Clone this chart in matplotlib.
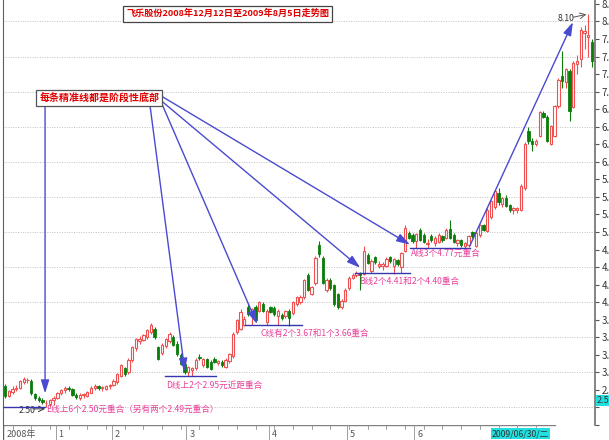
import numpy as np
import matplotlib
matplotlib.use('Agg')
import matplotlib.pyplot as plt
from matplotlib.transforms import blended_transform_factory

plt.rcParams['font.family'] = ['Noto Sans CJK SC', 'DejaVu Sans']

# daily OHLC, 2008-12-12 .. 2009-08-05
opens = [2.80, 2.67, 2.72, 2.77, 2.78, 2.86, 2.89, 2.88, 2.69, 2.63,
         2.60, 2.56, 2.55, 2.60, 2.64, 2.70, 2.75, 2.78, 2.77, 2.68,
         2.64, 2.68, 2.67, 2.71, 2.78, 2.80, 2.78, 2.77, 2.80, 2.82,
         2.86, 2.95, 3.06, 3.00, 3.18, 3.34, 3.44, 3.46, 3.50, 3.57,
         3.62, 3.36, 3.28, 3.38, 3.44, 3.50, 3.40, 3.25, 3.12, 3.00,
         3.03, 3.06, 3.22, 3.11, 3.19, 3.15, 3.19, 3.14, 3.15, 3.08,
         3.16, 3.23, 3.58, 3.62, 3.68, 3.93, 3.80, 3.93, 3.88, 3.98,
         3.72, 3.93, 3.92, 3.80, 3.82, 3.80, 3.87, 3.84, 3.98, 4.00,
         4.07, 4.39, 4.12, 4.28, 4.82, 4.63, 4.18, 4.32, 4.24, 4.11,
         3.93, 4.02, 4.20, 4.35, 4.38, 4.41, 4.40, 4.67, 4.45, 4.64,
         4.52, 4.52, 4.52, 4.64, 4.52, 4.60, 4.50, 4.73, 4.99, 4.96,
         4.87, 5.03, 4.95, 4.83, 4.94, 4.84, 4.86, 4.94, 4.92, 5.04,
         4.96, 4.84, 4.88, 4.80, 4.81, 5.00, 4.80, 4.96, 5.10, 5.02,
         5.22, 5.36, 5.56, 5.40, 5.48, 5.38, 5.31, 5.32, 5.32, 5.62,
         6.44, 6.30, 6.26, 6.37, 6.69, 6.64, 6.26, 6.37, 6.79, 7.22,
         7.13, 7.29, 6.78, 7.39, 7.46, 7.83, 7.78, 7.70]
highs = [2.83, 2.75, 2.80, 2.82, 2.89, 2.93, 2.92, 2.90, 2.71, 2.66,
         2.63, 2.60, 2.62, 2.66, 2.72, 2.77, 2.80, 2.80, 2.78, 2.70,
         2.70, 2.71, 2.74, 2.80, 2.83, 2.82, 2.80, 2.82, 2.84, 2.90,
         2.99, 3.12, 3.08, 3.20, 3.38, 3.49, 3.52, 3.55, 3.62, 3.70,
         3.65, 3.38, 3.42, 3.49, 3.57, 3.53, 3.44, 3.27, 3.14, 3.09,
         3.08, 3.20, 3.26, 3.21, 3.21, 3.17, 3.22, 3.18, 3.17, 3.20,
         3.28, 3.57, 3.76, 3.90, 3.80, 3.97, 3.92, 3.96, 4.02, 4.00,
         3.90, 3.95, 3.95, 3.90, 3.85, 3.89, 3.90, 4.02, 4.09, 4.10,
         4.33, 4.42, 4.23, 4.66, 4.87, 4.66, 4.35, 4.35, 4.26, 4.13,
         4.05, 4.20, 4.37, 4.42, 4.44, 4.43, 4.80, 4.70, 4.62, 4.66,
         4.58, 4.57, 4.64, 4.66, 4.63, 4.62, 4.72, 5.10, 5.02, 4.99,
         4.99, 5.06, 4.98, 4.90, 4.97, 4.94, 4.99, 4.96, 5.06, 5.17,
         4.98, 4.90, 4.90, 4.86, 4.96, 5.02, 5.01, 5.12, 5.12, 5.35,
         5.46, 5.60, 5.62, 5.50, 5.52, 5.40, 5.36, 5.36, 5.68, 6.28,
         6.50, 6.34, 6.33, 6.73, 6.72, 6.66, 6.53, 6.81, 7.19, 7.58,
         7.34, 7.32, 7.43, 7.52, 7.92, 7.95, 8.10, 7.75]
lows = [2.63, 2.65, 2.69, 2.74, 2.76, 2.83, 2.85, 2.68, 2.61, 2.58,
        2.55, 2.50, 2.50, 2.53, 2.62, 2.68, 2.71, 2.74, 2.66, 2.62,
        2.61, 2.64, 2.65, 2.70, 2.75, 2.75, 2.74, 2.75, 2.77, 2.80,
        2.84, 2.93, 2.95, 2.98, 3.15, 3.30, 3.40, 3.44, 3.48, 3.55,
        3.48, 3.17, 3.25, 3.35, 3.42, 3.37, 3.24, 3.10, 2.97, 2.95,
        2.95, 3.04, 3.17, 3.08, 3.06, 3.03, 3.13, 3.10, 3.08, 3.06,
        3.14, 3.21, 3.55, 3.60, 3.66, 3.80, 3.67, 3.72, 3.86, 3.86,
        3.67, 3.84, 3.80, 3.67, 3.75, 3.78, 3.66, 3.82, 3.95, 3.97,
        4.05, 4.16, 4.10, 4.25, 4.65, 4.26, 4.15, 4.18, 3.95, 3.90,
        3.90, 4.00, 4.18, 4.33, 4.36, 4.18, 4.38, 4.54, 4.41, 4.55,
        4.48, 4.46, 4.50, 4.56, 4.40, 4.52, 4.41, 4.72, 4.90, 4.85,
        4.77, 4.87, 4.84, 4.77, 4.86, 4.80, 4.84, 4.86, 4.90, 4.90,
        4.84, 4.80, 4.79, 4.77, 4.79, 4.92, 4.78, 4.93, 5.01, 5.00,
        5.18, 5.33, 5.38, 5.36, 5.35, 5.29, 5.26, 5.27, 5.30, 5.60,
        6.25, 6.16, 6.22, 6.35, 6.62, 6.28, 6.24, 6.35, 6.77, 7.05,
        7.05, 6.58, 6.76, 7.25, 7.35, 7.60, 7.50, 7.35]
closes = [2.66, 2.73, 2.77, 2.78, 2.87, 2.90, 2.89, 2.70, 2.63, 2.60,
          2.58, 2.57, 2.60, 2.64, 2.70, 2.75, 2.78, 2.77, 2.68, 2.65,
          2.68, 2.68, 2.72, 2.78, 2.80, 2.78, 2.78, 2.80, 2.82, 2.88,
          2.97, 3.10, 2.98, 3.18, 3.36, 3.47, 3.48, 3.53, 3.60, 3.67,
          3.50, 3.19, 3.39, 3.47, 3.55, 3.39, 3.26, 3.12, 3.01, 3.07,
          3.06, 3.18, 3.20, 3.19, 3.08, 3.05, 3.15, 3.16, 3.10, 3.18,
          3.26, 3.55, 3.74, 3.86, 3.76, 3.83, 3.90, 3.74, 4.00, 3.88,
          3.88, 3.86, 3.83, 3.88, 3.77, 3.87, 3.78, 4.00, 4.07, 4.07,
          4.31, 4.18, 4.21, 4.63, 4.68, 4.28, 4.32, 4.20, 3.97, 3.93,
          4.02, 4.18, 4.35, 4.39, 4.41, 4.39, 4.73, 4.56, 4.59, 4.57,
          4.54, 4.55, 4.61, 4.59, 4.61, 4.55, 4.70, 5.06, 4.92, 4.87,
          4.97, 4.89, 4.86, 4.85, 4.88, 4.92, 4.96, 4.88, 5.03, 4.92,
          4.86, 4.88, 4.81, 4.84, 4.94, 4.94, 4.99, 5.10, 5.03, 5.32,
          5.44, 5.58, 5.42, 5.48, 5.37, 5.31, 5.34, 5.34, 5.66, 6.26,
          6.29, 6.26, 6.30, 6.71, 6.64, 6.30, 6.51, 6.79, 7.17, 7.15,
          7.32, 6.72, 7.41, 7.44, 7.88, 7.86, 7.81, 7.43]

# first trading day of each month (index) and its label
month_starts = [14, 29, 49, 71, 92, 110]
month_labels = ['1', '2', '3', '4', '5', '6']

# support lines E, D, C, B, A
level_names = ['E', 'D', 'C', 'B', 'A']
levels = [2.50, 2.95, 3.67, 4.41, 4.77]
level_spans = [(-0.6, 10.8), (42.8, 56.4), (64.2, 79.4), (93.6, 108.3), (108.3, 124.3)]
level_texts = ['E线上6个2.50元重合（另有两个2.49元重合）',
               'D线上2个2.95元近距重合',
               'C线有2个3.67和1个3.66重合',
               'B线2个4.41和2个4.40重合',
               'A线3个4.77元重合']
level_text_pos = [(11.0, 2.47), (43.0, 2.82), (68.4, 3.56), (94.7, 4.29), (108.6, 4.70)]
arrow_tips = [(10.7, 2.70), (48.1, 3.01), (67.4, 3.69), (95.0, 4.49), (108.3, 4.82)]
arrow_tails = [(10.7, 6.79), (38.8, 6.79), (42.0, 6.82), (42.0, 6.86), (42.0, 6.93)]

red = '#f05050'
green = '#0b7d0b'
blue = '#4a4ad0'
pink = '#e8409a'

fig = plt.figure(figsize=(6.09, 4.40), dpi=100)
L, R = 3 / 609, 595 / 609
ax = fig.add_axes([L, 15 / 440, R - L, 425 / 440])

o = np.array(opens); h = np.array(highs); l = np.array(lows); c = np.array(closes)
idx = np.arange(len(c))
up = c >= o

# dotted grid
for g in np.arange(2.5, 8.01, 0.5):
    ax.axhline(g, color='#c0c0c0', lw=0.7, ls=(0, (1, 1.5)), zorder=0)

ax.vlines(idx[up], l[up], h[up], color=red, lw=0.8, zorder=2)
ax.vlines(idx[~up], l[~up], h[~up], color=green, lw=0.8, zorder=2)
ax.bar(idx[up], np.maximum(c - o, 0.006)[up], bottom=o[up], width=0.62,
       facecolor='white', edgecolor=red, lw=0.8, zorder=3)
ax.bar(idx[~up], (o - c)[~up], bottom=c[~up], width=0.62,
       color=green, edgecolor=green, lw=0.6, zorder=3)

ax.set_xlim(-0.55, 157.8)
ax.set_ylim(2.302, 8.305)
ax.set_xticks([])
ax.yaxis.tick_right()
yt = np.arange(2.25, 8.3, 0.25)
ax.set_yticks(yt)
# the current-price tag covers the lowest labels
ax.set_yticklabels(['%.2f' % v if v > 2.6 else '' for v in yt], fontsize=7, color='#333333')
ax.tick_params(axis='y', length=3, color='#555555', pad=2)
for s in ['top', 'bottom']:
    ax.spines[s].set_visible(False)
ax.spines['left'].set_color('#606060')
ax.spines['right'].set_color('#707070')
ax.spines['right'].set_linewidth(1.2)

# support lines and their notes
for name, lv, (x0, x1), txt, (tx, ty) in zip(level_names, levels, level_spans, level_texts, level_text_pos):
    ax.plot([x0, x1], [lv, lv], color='#3535b0', lw=1.0, zorder=4)
    ax.text(tx, ty, txt, color=pink, fontsize=6.2, va='center', ha='left', zorder=6)

# arrows from the caption box
for (tx, ty), (sx, sy) in zip(arrow_tips, arrow_tails):
    ax.annotate('', xy=(tx, ty), xytext=(sx, sy),
                arrowprops=dict(arrowstyle='-|>,head_length=0.8,head_width=0.25',
                                color=blue, lw=1.0, shrinkA=0, shrinkB=0), zorder=5)
ax.annotate('', xy=(151.9, 7.99), xytext=(124.3, 4.80),
            arrowprops=dict(arrowstyle='-|>,head_length=0.8,head_width=0.25',
                            color=blue, lw=1.0, shrinkA=0, shrinkB=0), zorder=5)

# high / low markers
hi = int(np.argmax(h)); lo = int(np.argmin(l))
ax.text(hi - 8.2, h[hi] - 0.06, '%.2f' % h[hi], fontsize=6.3, color='#333333', va='center')
ax.annotate('', xy=(hi - 0.5, h[hi]), xytext=(hi - 4.0, h[hi] - 0.04),
            arrowprops=dict(arrowstyle='->', color='#555555', lw=0.7, shrinkA=0, shrinkB=0))
ax.text(lo - 7.5, l[lo] - 0.04, '%.2f' % l[lo], fontsize=6.3, color='#333333', va='center')
ax.annotate('', xy=(lo - 0.3, l[lo] - 0.02), xytext=(lo - 3.6, l[lo] - 0.02),
            arrowprops=dict(arrowstyle='->', color='#333333', lw=0.7, shrinkA=0, shrinkB=0))

# current price tag on the right axis
tr = blended_transform_factory(ax.transAxes, ax.transData)
ax.text(1.003, 2.53, '2.53', transform=tr, fontsize=6.5, color='#333333', va='bottom', ha='left',
        bbox=dict(boxstyle='square,pad=0.1', fc='#22e0e0', ec='none'), clip_on=False)

# captions
fig.text(0.374, 0.969, '飞乐股份2008年12月12日至2009年8月5日走势图', color='#e00000',
         fontsize=6.6, fontweight='bold', ha='center', va='center',
         bbox=dict(boxstyle='square,pad=0.35', fc='white', ec='#444444', lw=0.9))
fig.text(0.163, 0.778, '每条精准线都是阶段性底部', color='#e00000',
         fontsize=7.2, fontweight='bold', ha='center', va='center',
         bbox=dict(boxstyle='square,pad=0.3', fc='white', ec='#555555', lw=0.9))

# date strip
ax2 = fig.add_axes([L, 0, R - L, 15 / 440])
ax2.set_xlim(ax.get_xlim())
ax2.set_ylim(0, 1)
ax2.axis('off')
ax2.plot([0, 0.932], [0.97, 0.97], transform=ax2.transAxes, color='#808080', lw=1.0)
ax2.plot([0, 0], [0, 1], transform=ax2.transAxes, color='#606060', lw=1.0)
for t in np.arange(2, 147, 5):
    ax2.plot([t, t], [0.75, 0.97], color='#909090', lw=0.6)
for m, lab in zip(month_starts, month_labels):
    ax2.plot([m - 0.5, m - 0.5], [0, 0.97], color='#909090', lw=0.6)
    ax2.text(m + 0.3, 0.4, lab, fontsize=6.5, color='#555555', va='center', ha='left')
ax2.text(0.3, 0.4, '2008年', fontsize=6.5, color='#555555', va='center', ha='left')
ax2.text(130.2, 0.42, '2009/06/30/二', fontsize=6.3, color='#333333', va='center', ha='left',
         bbox=dict(boxstyle='square,pad=0.1', fc='#22e0e0', ec='none'))

fig.savefig('out.png', dpi=100)
